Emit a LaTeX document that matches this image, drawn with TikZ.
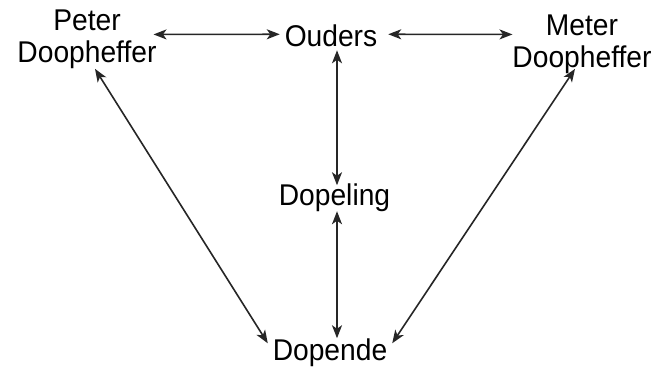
\documentclass[tikz,border=0pt]{standalone}
\usepackage{fontspec}
\setmainfont{Liberation Sans}[FakeStretch=0.94]
\usetikzlibrary{arrows.meta}
\begin{document}
\begin{tikzpicture}[x=1pt,y=-1pt,
  lbl/.style={inner sep=0pt,outer sep=0pt,font=\fontsize{30}{32}\selectfont,align=center},
  arr/.style={draw=black!85,line width=1.6pt,{Stealth[length=13pt,width=10pt,inset=3.5pt]}-{Stealth[length=13pt,width=10pt,inset=3.5pt]}}]
\useasboundingbox (0,0) rectangle (654,367);
\node[lbl,anchor=north] (peter) at (87,10) {Peter\\Doopheffer};
\node[lbl,anchor=north] (meter) at (582,15) {Meter\\Doopheffer};
\node[lbl,anchor=base] (ouders) at (331,46) {Ouders};
\node[lbl,anchor=base] (dopeling) at (334.5,205) {Dopeling};
\node[lbl,anchor=base] (dopende) at (330,360) {Dopende};
\draw[arr] ([xshift=-3pt,yshift=5pt]peter.east) -- ([xshift=-5pt,yshift=1pt]ouders.west);
\draw[arr] ([xshift=11pt,yshift=1pt]ouders.east) -- ([yshift=10pt]meter.west);
\draw[arr] ([xshift=6pt,yshift=-4pt]ouders.south) -- ([xshift=2.5pt,yshift=-2pt]dopeling.north);
\draw[arr] ([xshift=2.5pt]dopeling.south) -- ([xshift=7pt]dopende.north);
\draw[arr] ([xshift=8pt]peter.south) -- ([xshift=-5pt,yshift=-5pt]dopende.north west);
\draw[arr] ([xshift=-7pt,yshift=5pt]meter.south) -- ([xshift=5pt,yshift=-5pt]dopende.north east);
\end{tikzpicture}
\end{document}
